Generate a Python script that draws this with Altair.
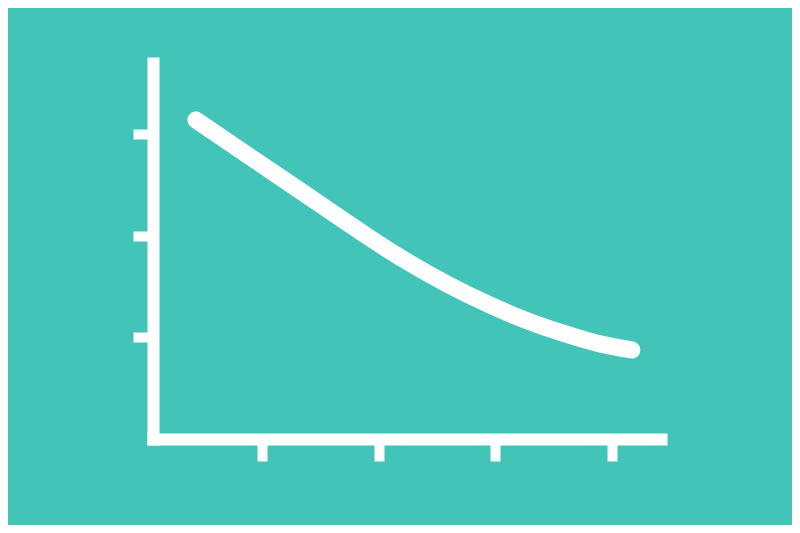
import altair as alt
import pandas as pd

# Curve (arbitrary units)
x_vals = [0.434, 0.897, 1.326, 1.840, 2.183, 2.585, 2.954, 3.151, 3.554, 3.896, 4.170]
y_vals = [3.140, 2.778, 2.444, 2.043, 1.788, 1.526, 1.319, 1.220, 1.051, 0.936, 0.876]
x_ticks = [1, 2, 3, 4]
y_ticks = [1, 2, 3]

df = pd.DataFrame({"x": x_vals, "y": y_vals})

BG = "#43C4B8"
WHITE = "#FFFFFF"

chart = alt.Chart(df).mark_line(
    color=WHITE, strokeWidth=17, strokeCap="round", strokeJoin="round",
    interpolate="monotone"
).encode(
    x=alt.X("x:Q", scale=alt.Scale(domain=[0.066, 4.42], nice=False, zero=False),
            axis=alt.Axis(values=x_ticks, labels=False, title=None, grid=False,
                          domainColor=WHITE, domainWidth=12, domainCap="square",
                          tickColor=WHITE, tickWidth=10, tickSize=22, tickCap="butt")),
    y=alt.Y("y:Q", scale=alt.Scale(domain=[0, 3.7], nice=False, zero=False),
            axis=alt.Axis(values=y_ticks, labels=False, title=None, grid=False,
                          domainColor=WHITE, domainWidth=12, domainCap="square",
                          tickColor=WHITE, tickWidth=10, tickSize=20, tickCap="butt")),
).properties(
    width=508, height=376,
    background=BG,
    padding={"left": 145, "top": 55, "right": 131, "bottom": 86},
    autosize=alt.AutoSizeParams(type="none"),
).configure_view(stroke=None)

chart.save("out.html", embed_options={"renderer": "svg", "actions": False})
